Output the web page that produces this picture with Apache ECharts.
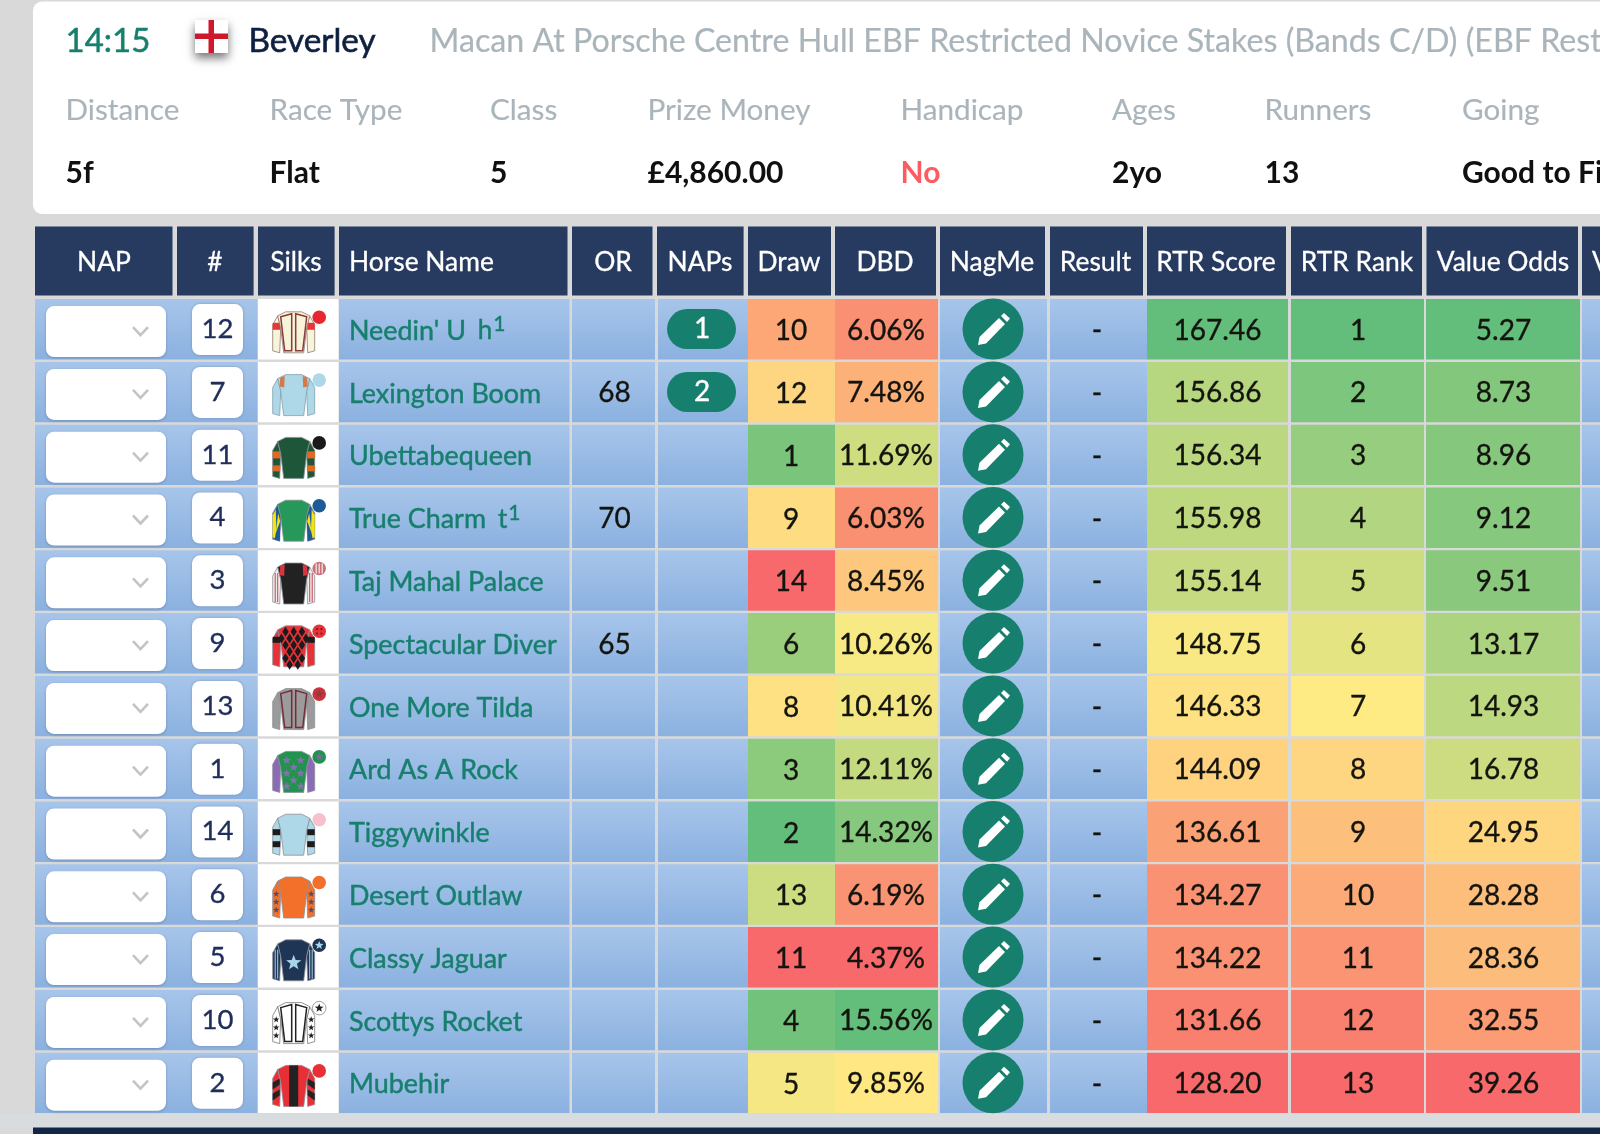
<!DOCTYPE html>
<html><head><meta charset="utf-8">
<style>html,body{margin:0;padding:0;background:#d9d9d9;overflow:hidden}#c{width:1600px;height:1134px;filter:blur(0.35px)}</style>
<script src="https://cdn.jsdelivr.net/npm/echarts@6/dist/echarts.min.js"></script>
</head><body><div id="c"></div>
<script>
// ---------- data ----------
const raceTime = '14:15';
const course = 'Beverley';
const raceTitle = 'Macan At Porsche Centre Hull EBF Restricted Novice Stakes (Bands C/D) (EBF Restricted Race)';
const infoLabels = ['Distance','Race Type','Class','Prize Money','Handicap','Ages','Runners','Going'];
const infoValues = ['5f','Flat','5','£4,860.00','No','2yo','13','Good to Firm'];
const headers = ['NAP','#','Silks','Horse Name','OR','NAPs','Draw','DBD','NagMe','Result','RTR Score','RTR Rank','Value Odds','V'];
const horseNames = ["Needin' U",'Lexington Boom','Ubettabequeen','True Charm','Taj Mahal Palace','Spectacular Diver','One More Tilda','Ard As A Rock','Tiggywinkle','Desert Outlaw','Classy Jaguar','Scottys Rocket','Mubehir'];
const headgear = ['h','','','t','','','','','','','','',''];
const clothNumbers = [12,7,11,4,3,9,13,1,14,6,5,10,2];
const ratings = [null,68,null,70,null,65,null,null,null,null,null,null,null];
const napCounts = [1,2,null,null,null,null,null,null,null,null,null,null,null];
const draws = [10,12,1,9,14,6,8,3,2,13,11,4,5];
const dbd = [6.06,7.48,11.69,6.03,8.45,10.26,10.41,12.11,14.32,6.19,4.37,15.56,9.85];
const results = ['-','-','-','-','-','-','-','-','-','-','-','-','-'];
const rtrScores = [167.46,156.86,156.34,155.98,155.14,148.75,146.33,144.09,136.61,134.27,134.22,131.66,128.20];
const rtrRanks = [1,2,3,4,5,6,7,8,9,10,11,12,13];
const valueOdds = [5.27,8.73,8.96,9.12,9.51,13.17,14.93,16.78,24.95,28.28,28.36,32.55,39.26];

// ---------- style / layout (kept apart from the data) ----------
const drawColours = ['#fda777','#fed580','#7bc47c','#fedc81','#f8696b','#9ace7d','#fee182','#8ccb7c','#63be7b','#cbdc81','#f8696b','#72c27c','#f5e784'];
const FONT = 'Lato';
const TEAL = '#177f6d', NAVY = '#273a60', TXT = '#14140f';
const infoX = [65.5,269.5,490,647.5,900.5,1112,1264.5,1462];
const headCells = [[35,172.5],[177,253.6],[258,334.6],[339,567.5],[572,652.5],[657,743.6],[748,831],[835,936],[940,1045],[1050,1143],[1147,1286],[1291,1422],[1426.5,1578],[1582,1600]];
const headTextX = [104,215,296,349,613,700,789,885,992,1095.5,1216,1357,1503,1592];
const blueCols = [[35,257.5],[339,569.5],[572,655],[658,748],[940,1047],[1050,1147],[1582,1600]];
const silkStyles = [
 {body:'#f7f4da',sleeve:'#f7f4da',cap:'#e8262f',seam:'#8f3a3a',hoops:[[-8,-1,'#e8353a']],line:'#8f7a70'},
 {body:'#aed8e8',sleeve:'#aed8e8',cap:'#aed8e8',ep:'#d67a45',line:'#7d9fae'},
 {body:'#1e5639',sleeve:'#1e5639',cap:'#1a1a1a',hoops:[[-5,2,'#e6681f'],[9,15,'#e6681f']]},
 {body:'#26995a',sleeve:'#1d5a9a',cap:'#1d5a9a',tri:'#f4e313'},
 {body:'#222222',sleeve:'#f2eded',cap:'#c9727a',ep:'#d8353c',sleeveLines:'#c8414a',capLines:'#f2eded'},
 {body:'#e8323a',sleeve:'#e8323a',cap:'#e8323a',diamonds:'#1b1b1b',hoops:[[-8,-2,'#1b1b1b']],capDots:'#7a1a20'},
 {body:'#9b9b9b',sleeve:'#9b9b9b',cap:'#c8323a',seam:'#7a2a38',capStar:'#8a3a48'},
 {body:'#22924f',sleeve:'#8b6bb5',cap:'#22924f',stars:[[-7,-10],[7,-10],[0,-3],[-7,3],[7,3],[0,10],[-7,16],[7,16]],starCol:'#8273a8',capStar:'#7a6a9d'},
 {body:'#aed8e8',sleeve:'#aed8e8',cap:'#f6c1cc',hoops:[[-4,2,'#1b1b1b'],[8,14,'#1b1b1b']]},
 {body:'#f2702a',sleeve:'#f2702a',cap:'#f2702a',sleeveStars:'#5a4a66'},
 {body:'#1f3556',sleeve:'#1f3556',cap:'#1f3556',stars:[[0,4]],starCol:'#a8d4e6',starR:8,sleeveLines:'#a8d4e6',capStar:'#a8d4e6'},
 {body:'#ffffff',sleeve:'#ffffff',cap:'#ffffff',seam:'#222222',sleeveStars:'#222222',capStar:'#222222',line:'#777777'},
 {body:'#e92f36',sleeve:'#e92f36',cap:'#e92f36',stripe:'#222222',chev:'#222222'}
];

// ---------- colour scale: 3-colour red / yellow / green ----------
const hex = s => [1,3,5].map(i => parseInt(s.substr(i,2),16));
const RED = hex('#f8696b'), YEL = hex('#ffeb84'), GRN = hex('#63be7b');
const mix = (a,b,t) => 'rgb(' + a.map((v,i)=>Math.round(v+(b[i]-v)*t)).join(',') + ')';
function heat(v, arr, lowIsGood){
  const lo = Math.min(...arr), hi = Math.max(...arr), mid = (lo+hi)/2;
  let c = v <= mid ? mix(RED,YEL,(v-lo)/(mid-lo)) : mix(YEL,GRN,(v-mid)/(hi-mid));
  if (lowIsGood) c = v <= mid ? mix(GRN,YEL,(v-lo)/(mid-lo)) : mix(YEL,RED,(v-mid)/(hi-mid));
  return c;
}
const blueGrad = new echarts.graphic.LinearGradient(0,0,0,1,[{offset:0,color:'#a7c5ea'},{offset:1,color:'#8bb1e0'}]);

function txt(x,y,text,opt){
  const s = Object.assign({x,y,text,fontFamily:FONT,fontSize:28,fill:TXT,align:'center',verticalAlign:'middle'},opt||{});
  s.stroke = s.fill; s.lineWidth = 0.35;
  return {type:'text',style:s};
}
function rect(x,y,w,h,fill,extra){
  return Object.assign({type:'rect',shape:{x,y,width:w,height:h},style:{fill}},extra||{});
}
function poly(pts,fill,stroke,lw){
  return {type:'polygon',shape:{points:pts},style:{fill:fill||'none',stroke:stroke||null,lineWidth:lw||1}};
}
function starPts(cx,cy,r){
  const p=[];for(let i=0;i<10;i++){const a=-Math.PI/2+i*Math.PI/5,q=i%2?r*0.42:r;p.push([cx+q*Math.cos(a),cy+q*Math.sin(a)]);}return p;
}
function silk(s,cx,cy){
  const out=[]; const off=pts=>pts.map(p=>[cx+p[0],cy+p[1]]); const mir=pts=>pts.map(p=>[-p[0],p[1]]);
  const both=(pts,f,st,lw)=>{out.push(poly(off(pts),f,st,lw));out.push(poly(off(mir(pts)),f,st,lw));};
  const edge=s.line||'#8a8f96';
  const sleeve=[[-16,-15],[-21,-6],[-21,20],[-14,22],[-13,-3]];
  const body=[[-8,-19],[8,-19],[16,-15],[13,-3],[10,22],[-10,22],[-13,-3],[-16,-15]];
  both(sleeve,s.sleeve,edge,0.8);
  if(s.tri){
    both([[-18,-10],[-21,-4],[-21,18],[-17,20]],s.tri);
    both([[-14,-8],[-13,-3],[-14,22],[-19,20]],s.sleeve);
    both([[-15.5,-6],[-13.5,2],[-18,14]],s.tri);
  }
  (s.hoops||[]).forEach(h=>both([[-21,h[0]],[-13.5,h[0]],[-13.5,h[1]],[-21,h[1]]],h[2]));
  if(s.sleeveLines){[-19,-16.5].forEach(x=>both([[x,-9],[x+1,-9],[x+1,20],[x,20]],s.sleeveLines));}
  if(s.sleeveStars){[-2,6,14].forEach(y=>both(starPts(-17.5,y,3.4),s.sleeveStars));}
  if(s.chev){[2,13].forEach(y=>both([[-21,y-4],[-14,y-8],[-14,y-2],[-21,y+3]],s.chev));}
  out.push(poly(off(body),s.body,edge,0.8));
  if(s.diamonds){
    for(let r=0;r<6;r++){for(let c=-2;c<=2;c++){
      const x=c*8.2+(r%2?4.1:0),y=-13+r*6.6; if(Math.abs(x)>(y>0?8.5:12.5))continue;
      out.push(poly(off([[x,y-5],[x+3.2,y],[x,y+5],[x-3.2,y]]),s.diamonds));
    }}
  }
  if(s.stripe) out.push(poly(off([[-4.5,-19],[4.5,-19],[4.5,22],[-4.5,22]]),s.stripe));
  if(s.seam) both([[-13,-14],[-2,-17],[-2,20],[-9,20]],'none',s.seam,1.5);
  if(s.ep) both([[-13.5,-16],[-9,-17.5],[-9.5,-6],[-14,-7]],s.ep);
  (s.stars||[]).forEach(p=>out.push(poly(off(starPts(p[0],p[1],s.starR||4.6)),s.starCol)));
  const cap={x:cx+25.5,y:cy-13.5};
  out.push({type:'circle',shape:{cx:cap.x,cy:cap.y,r:6.8},style:{fill:s.cap,stroke:s.cap==='#ffffff'?'#777':null,lineWidth:0.7}});
  if(s.capStar) out.push(poly(starPts(cap.x,cap.y,4.6),s.capStar));
  if(s.capLines)[-3,0,3].forEach(d=>out.push(rect(cap.x+d-0.6,cap.y-5,1.2,10,s.capLines)));
  if(s.capDots)[[-2.2,-2.2],[2.2,-2.2],[-2.2,2.2],[2.2,2.2]].forEach(d=>out.push({type:'circle',shape:{cx:cap.x+d[0],cy:cap.y+d[1],r:1.1},style:{fill:s.capDots}}));
  return out;
}
function pencil(cx,cy){
  const f=p=>p.map(q=>[cx+q[0],cy+q[1]]);
  return [
    poly(f([[-15,16],[-13.5,8],[6,-11],[12,-5],[-7,14.5]]),'#ffffff'),
    poly(f([[8,-13],[11,-16],[17,-10.5],[14,-7]]),'#ffffff')
  ];
}

function renderRow(params, api){
  const i = api.value(0);
  const cy = api.coord([0,i])[1];
  const pitch = api.size([0,1])[1];
  const h = pitch-2.4, top = cy-h/2, mid = top+30;
  const X = v => api.coord([v,i])[0];
  const kids = [];
  blueCols.forEach(c=>kids.push(rect(X(c[0]),top,X(c[1])-X(c[0]),h,blueGrad)));
  kids.push(rect(X(258),top,X(338.5)-X(258),h,'#ffffff'));
  // heat cells
  kids.push(rect(X(748),top,X(835)-X(748),h,drawColours[i]));
  kids.push(rect(X(835),top,X(938)-X(835),h,heat(dbd[i],dbd)));
  kids.push(rect(X(1147),top,X(1288)-X(1147),h,heat(rtrScores[i],rtrScores)));
  kids.push(rect(X(1291),top,X(1424)-X(1291),h,heat(rtrRanks[i],rtrRanks,true)));
  kids.push(rect(X(1426),top,X(1580)-X(1426),h,heat(valueOdds[i],valueOdds,true)));
  // select box + chevron
  kids.push({type:'rect',shape:{x:X(46),y:top+7,width:120,height:51,r:8},style:{fill:'#fff',shadowBlur:3,shadowColor:'rgba(90,110,150,.55)',shadowOffsetY:1}});
  kids.push({type:'polyline',shape:{points:[[X(133),mid-2],[X(140.5),mid+6],[X(148),mid-2]]},style:{stroke:'#c4c4c4',lineWidth:2.6,fill:'none'}});
  // cloth number
  kids.push({type:'rect',shape:{x:X(192),y:top+5,width:51,height:51,r:8},style:{fill:'#fff',shadowBlur:3,shadowColor:'rgba(90,110,150,.55)'}});
  kids.push(txt(X(217.5),mid,String(clothNumbers[i]),{fill:'#1f2d5a',fontSize:27.5}));
  // silks
  silk(silkStyles[i],X(293.7),mid+1.7).forEach(k=>kids.push(k));
  // name
  const sup = headgear[i] ? ' {s|'+headgear[i]+'}{u|1}' : '';
  kids.push({type:'text',style:{x:X(349),y:mid+2,text:horseNames[i]+sup,fontFamily:FONT,fontSize:26.9,fill:TEAL,stroke:TEAL,lineWidth:0.45,align:'left',verticalAlign:'middle',
    rich:{s:{fontFamily:FONT,fontSize:26,fill:TEAL,stroke:TEAL,lineWidth:0.45,padding:[0,0,0,5],verticalAlign:'middle'},u:{fontFamily:FONT,fontSize:21,fill:TEAL,stroke:TEAL,lineWidth:0.45,verticalAlign:'middle',padding:[0,0,13,1]}}}});
  if(ratings[i]!=null) kids.push(txt(X(614.5),mid+1.5,String(ratings[i])));
  if(napCounts[i]!=null){
    kids.push({type:'rect',shape:{x:X(667),y:mid-20,width:69,height:40,r:20},style:{fill:TEAL}});
    kids.push(txt(X(702),mid,String(napCounts[i]),{fill:'#fff'}));
  }
  kids.push(txt(X(791),mid+2,String(draws[i])));
  kids.push(txt(X(886),mid+1.5,dbd[i].toFixed(2)+'%'));
  kids.push({type:'circle',shape:{cx:X(993),cy:mid,r:30.5},style:{fill:TEAL}});
  pencil(X(993),mid).forEach(k=>kids.push(k));
  kids.push(txt(X(1097),mid+2,results[i]));
  kids.push(txt(X(1217.5),mid+1.5,rtrScores[i].toFixed(2)));
  kids.push(txt(X(1358),mid+1.5,String(rtrRanks[i])));
  kids.push(txt(X(1503.5),mid+1.5,valueOdds[i].toFixed(2)));
  return {type:'group',children:kids};
}

// ---------- static page furniture ----------
const g = [];
g.push({type:'rect',z:0,shape:{x:0,y:0,width:1600,height:1134},style:{fill:'#d9d9d9'}});
g.push({type:'rect',z:0,shape:{x:33,y:1.5,width:1600,height:212.5,r:9},style:{fill:'#fff'}});
g.push({type:'rect',z:0,shape:{x:0,y:1114,width:1600,height:14},style:{fill:'#d9dcdf'}});
g.push({type:'rect',z:0,shape:{x:33,y:1127.5,width:1600,height:10},style:{fill:'#12264a'}});
g.push({type:'rect',z:1,shape:{x:195,y:20,width:33,height:33},style:{fill:'#fff',shadowBlur:9,shadowColor:'rgba(0,0,0,.55)',shadowOffsetY:5}});
g.push({type:'rect',z:2,shape:{x:195,y:33.5,width:33,height:5.5},style:{fill:'#d0182c'}});
g.push({type:'rect',z:2,shape:{x:208.5,y:20,width:5.5,height:33},style:{fill:'#d0182c'}});
const gt=(x,y,text,size,fill,weight,align,sw)=>g.push({type:'text',z:3,style:{x,y,text,fontFamily:FONT,fontSize:size,fontWeight:weight||'normal',fill,stroke:sw?fill:null,lineWidth:sw||0,align:align||'left',verticalAlign:'middle'}});
gt(65.5,41,raceTime,33,TEAL,'normal','left',0.5);
gt(248.5,41,course,33.3,'#0e1f40','normal','left',0.6);
gt(429.5,42,raceTitle,32.2,'#a9b4bb','normal','left',0.2);
infoLabels.forEach((t,i)=>gt(infoX[i],110,t,29.7,'#a9b4bb','normal','left',0.15));
infoValues.forEach((t,i)=>gt(infoX[i],173,t,30,t==='No'?'#fb5c62':'#101010','bold'));
headers.forEach((t,i)=>{
  const c=headCells[i];
  g.push({type:'rect',z:1,shape:{x:c[0],y:226.5,width:c[1]-c[0],height:69},style:{fill:NAVY}});
  gt(headTextX[i],262,t,26.4,'#ffffff','normal',(i===3||i===13)?'left':'center',0.3);
});

const chart = echarts.init(document.getElementById('c'),null,{width:1600,height:1134});
chart.setOption({
  animation:false,
  backgroundColor:'#d9d9d9',
  graphic:{elements:g},
  grid:{left:0,width:1600,top:297.9,height:816.4,containLabel:false},
  xAxis:{type:'value',min:0,max:1600,show:false},
  yAxis:{type:'category',inverse:true,show:false,data:horseNames},
  series:[{type:'custom',clip:false,renderItem:renderRow,
    encode:{x:1,y:0},
    data:horseNames.map((n,i)=>[i,0])}]
});
</script></body></html>
